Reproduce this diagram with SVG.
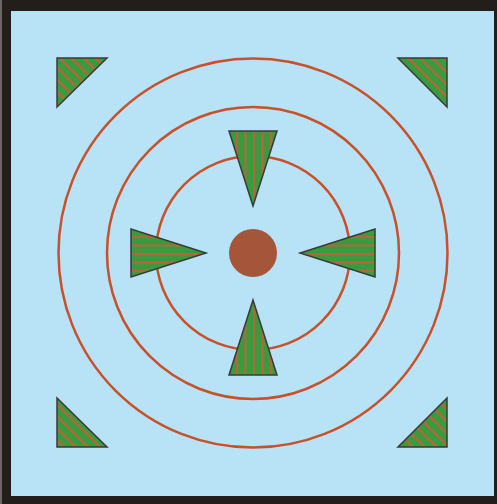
<svg xmlns="http://www.w3.org/2000/svg" width="497" height="504" viewBox="0 0 497 504">
<defs>
<pattern id="pv" patternUnits="userSpaceOnUse" x="236" y="0" width="8.5" height="10"><rect width="8.5" height="10" fill="#3a9a3e"/><rect x="0" y="0" width="2" height="10" fill="#b8653a"/></pattern>
<pattern id="ph" patternUnits="userSpaceOnUse" x="0" y="236" width="10" height="8.5"><rect width="10" height="8.5" fill="#3a9a3e"/><rect x="0" y="0" width="10" height="2" fill="#b8653a"/></pattern>
<pattern id="pd" patternUnits="userSpaceOnUse" width="8.5" height="10" patternTransform="rotate(-45)"><rect width="8.5" height="10" fill="#3a9a3e"/><rect x="0" y="0" width="2.2" height="10" fill="#b8653a"/></pattern>
<style>
.ring{fill:none;stroke:#c8502a;stroke-width:2.5}
.tri{stroke:#3a3a3a;stroke-width:1.5;stroke-linejoin:miter}
</style>
</defs>
<rect x="0" y="0" width="497" height="504" fill="#231e1b"/>
<rect x="0" y="0" width="2" height="504" fill="#6b6662"/>
<rect x="11" y="11" width="483" height="485" fill="#b8e2f6"/>
<g id="rings">
<circle class="ring" cx="253" cy="253" r="194.5"/>
<circle class="ring" cx="253" cy="253" r="146"/>
<circle class="ring" cx="253" cy="253" r="97"/>
</g>
<g id="center"><circle cx="253" cy="253" r="24" fill="#a4553a"/></g>
<g id="tri-tl"><polygon class="tri" fill="url(#pd)" points="57,58 107,58 57,107"/></g>
<g id="tri-tr"><polygon class="tri" fill="url(#pd)" points="398,58 447,58 447,107"/></g>
<g id="tri-bl"><polygon class="tri" fill="url(#pd)" points="57,398 57,447 107,447"/></g>
<g id="tri-br"><polygon class="tri" fill="url(#pd)" points="447,398 447,447 398,447"/></g>
<g id="tri-top"><polygon class="tri" fill="url(#pv)" points="229,131 277,131 253,206"/></g>
<g id="tri-bottom"><polygon class="tri" fill="url(#pv)" points="229,375 277,375 253,300"/></g>
<g id="tri-left"><polygon class="tri" fill="url(#ph)" points="131,229 131,277 206,253"/></g>
<g id="tri-right"><polygon class="tri" fill="url(#ph)" points="375,229 375,277 300,253"/></g>
</svg>
